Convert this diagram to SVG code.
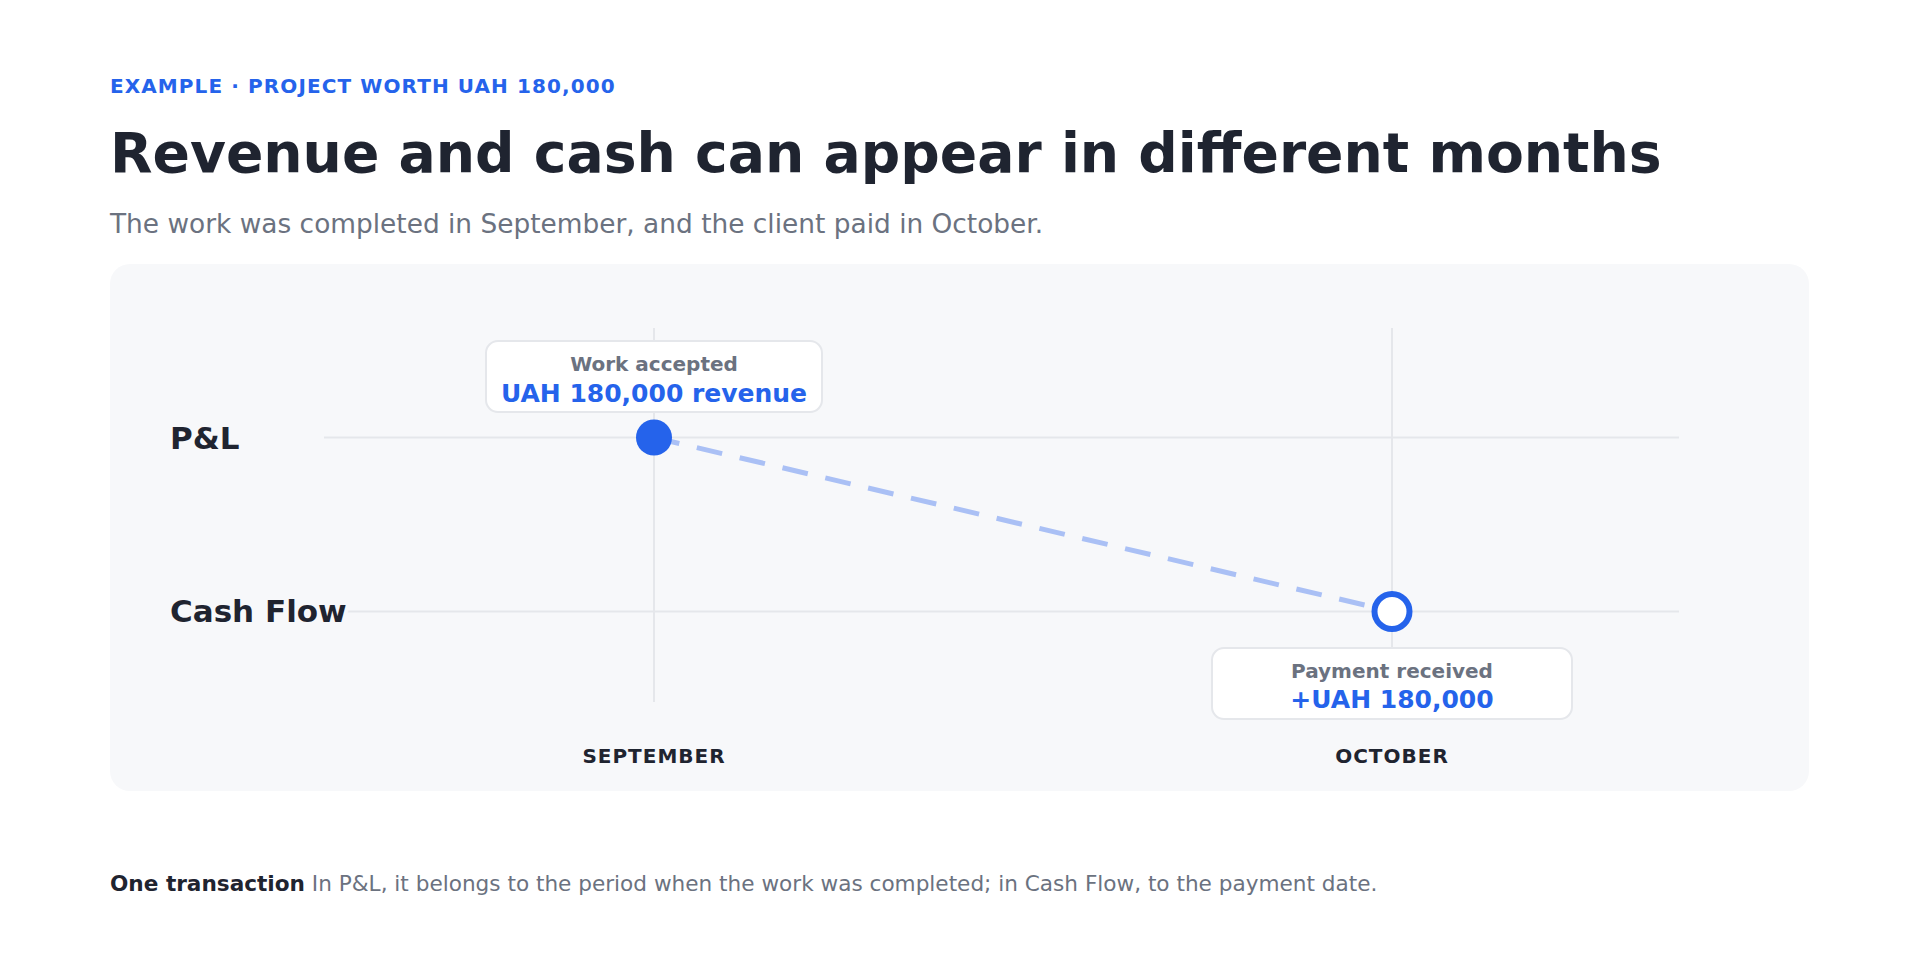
<svg xmlns="http://www.w3.org/2000/svg" width="1920" height="960" viewBox="0 0 1920 960">
  <style>
    text { font-family: "DejaVu Sans", "Liberation Sans", sans-serif; }
    .eyebrow { font-size: 20px; font-weight: bold; fill: #2563eb; letter-spacing: 1.1px; }
    .title { font-size: 55.2px; font-weight: bold; fill: #1f2430; }
    .sub { font-size: 26.4px; fill: #6b7280; }
    .row { font-size: 31px; font-weight: bold; fill: #1f2430; stroke: #f7f8fa; stroke-width: 8px; paint-order: stroke; stroke-linejoin: round; }
    .month { font-size: 20px; font-weight: bold; fill: #1f2430; letter-spacing: 1px; text-anchor: middle; }
    .grid { stroke: #e5e7eb; stroke-width: 2; fill: none; }
    .card { fill: #ffffff; stroke: #e5e7eb; stroke-width: 2; }
    .cap { font-size: 20px; font-weight: bold; fill: #6b7280; text-anchor: middle; }
    .val { font-size: 25px; font-weight: bold; fill: #2563eb; text-anchor: middle; }
    .foot { font-size: 21.6px; fill: #6b7280; }
    .footb { font-weight: bold; fill: #1f2430; }
  </style>
  <rect width="1920" height="960" fill="#ffffff"/>

  <g id="header">
    <text class="eyebrow" x="110" y="93">EXAMPLE · PROJECT WORTH UAH 180,000</text>
    <text class="title" x="110" y="172">Revenue and cash can appear in different months</text>
    <text class="sub" x="110" y="233">The work was completed in September, and the client paid in October.</text>
  </g>

  <g id="panel">
    <rect x="110" y="264" width="1699" height="527" rx="20" fill="#f7f8fa"/>
  </g>

  <g id="grid">
    <line class="grid" x1="324" y1="437.5" x2="1679" y2="437.5"/>
    <line class="grid" x1="324" y1="611.5" x2="1679" y2="611.5"/>
    <line class="grid" x1="654" y1="328" x2="654" y2="702"/>
    <line class="grid" x1="1392" y1="328" x2="1392" y2="702"/>
  </g>

  <g id="row-labels">
    <text class="row" x="170" y="449">P&amp;L</text>
    <text class="row" x="170" y="622">Cash Flow</text>
  </g>

  <g id="connectors">
    <line x1="654" y1="437.5" x2="1392" y2="611.5" stroke="#aac0f5" stroke-width="5" stroke-dasharray="26 18"/>
  </g>

  <g id="node-pl">
    <circle cx="654" cy="437.5" r="18" fill="#2563eb"/>
  </g>
  <g id="node-cash">
    <circle cx="1392" cy="611.5" r="17.5" fill="#ffffff" stroke="#2563eb" stroke-width="6"/>
  </g>

  <g id="card-work">
    <rect class="card" x="486" y="341" width="336" height="71" rx="12"/>
    <text class="cap" x="654" y="371">Work accepted</text>
    <text class="val" x="654" y="402">UAH 180,000 revenue</text>
  </g>

  <g id="card-payment">
    <rect class="card" x="1212" y="648" width="360" height="71" rx="12"/>
    <text class="cap" x="1392" y="678">Payment received</text>
    <text class="val" x="1392" y="708">+UAH 180,000</text>
  </g>

  <g id="months">
    <text class="month" x="654" y="763">SEPTEMBER</text>
    <text class="month" x="1392" y="763">OCTOBER</text>
  </g>

  <g id="footer">
    <text class="foot" x="110" y="891"><tspan class="footb">One transaction</tspan> In P&amp;L, it belongs to the period when the work was completed; in Cash Flow, to the payment date.</text>
  </g>
</svg>
